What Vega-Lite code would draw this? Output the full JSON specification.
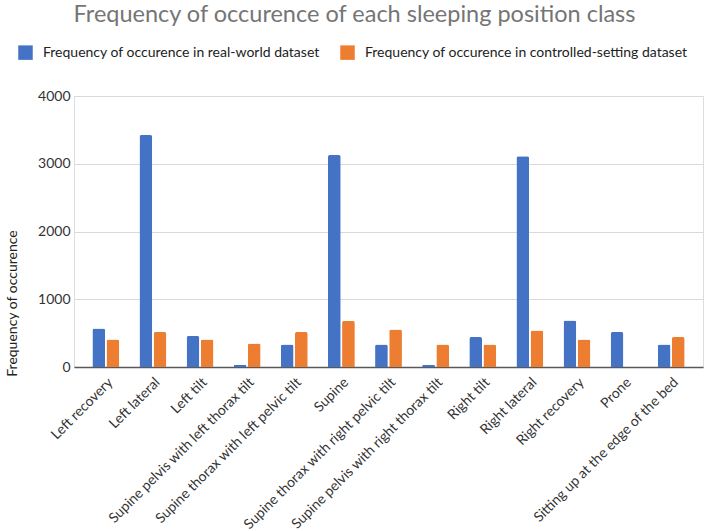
{
  "$schema": "https://vega.github.io/schema/vega-lite/v6.json",
  "width": 629,
  "height": 271,
  "autosize": {"type": "none"},
  "padding": {"left": 74, "top": 96, "right": 4, "bottom": 164},
  "background": "white",
  "title": {
    "text": "Frequency of occurence of each sleeping position class",
    "anchor": "middle",
    "frame": "group",
    "dx": -34,
    "offset": 19,
    "font": "Lato",
    "fontSize": 23.5,
    "fontWeight": "normal",
    "color": "#757575"
  },
  "data": {
    "values": [
      {"position": "Left recovery", "dataset": "Frequency of occurence in real-world dataset", "count": 567},
      {"position": "Left recovery", "dataset": "Frequency of occurence in controlled-setting dataset", "count": 405},
      {"position": "Left lateral", "dataset": "Frequency of occurence in real-world dataset", "count": 3424},
      {"position": "Left lateral", "dataset": "Frequency of occurence in controlled-setting dataset", "count": 517},
      {"position": "Left tilt", "dataset": "Frequency of occurence in real-world dataset", "count": 458},
      {"position": "Left tilt", "dataset": "Frequency of occurence in controlled-setting dataset", "count": 405},
      {"position": "Supine pelvis with left thorax tilt", "dataset": "Frequency of occurence in real-world dataset", "count": 35},
      {"position": "Supine pelvis with left thorax tilt", "dataset": "Frequency of occurence in controlled-setting dataset", "count": 346},
      {"position": "Supine thorax with left pelvic tilt", "dataset": "Frequency of occurence in real-world dataset", "count": 331},
      {"position": "Supine thorax with left pelvic tilt", "dataset": "Frequency of occurence in controlled-setting dataset", "count": 517},
      {"position": "Supine", "dataset": "Frequency of occurence in real-world dataset", "count": 3128},
      {"position": "Supine", "dataset": "Frequency of occurence in controlled-setting dataset", "count": 680},
      {"position": "Supine thorax with right pelvic tilt", "dataset": "Frequency of occurence in real-world dataset", "count": 331},
      {"position": "Supine thorax with right pelvic tilt", "dataset": "Frequency of occurence in controlled-setting dataset", "count": 553},
      {"position": "Supine pelvis with right thorax tilt", "dataset": "Frequency of occurence in real-world dataset", "count": 35},
      {"position": "Supine pelvis with right thorax tilt", "dataset": "Frequency of occurence in controlled-setting dataset", "count": 331},
      {"position": "Right tilt", "dataset": "Frequency of occurence in real-world dataset", "count": 443},
      {"position": "Right tilt", "dataset": "Frequency of occurence in controlled-setting dataset", "count": 331},
      {"position": "Right lateral", "dataset": "Frequency of occurence in real-world dataset", "count": 3109},
      {"position": "Right lateral", "dataset": "Frequency of occurence in controlled-setting dataset", "count": 538},
      {"position": "Right recovery", "dataset": "Frequency of occurence in real-world dataset", "count": 686},
      {"position": "Right recovery", "dataset": "Frequency of occurence in controlled-setting dataset", "count": 405},
      {"position": "Prone", "dataset": "Frequency of occurence in real-world dataset", "count": 517},
      {"position": "Prone", "dataset": "Frequency of occurence in controlled-setting dataset", "count": 0},
      {"position": "Sitting up at the edge of the bed", "dataset": "Frequency of occurence in real-world dataset", "count": 331},
      {"position": "Sitting up at the edge of the bed", "dataset": "Frequency of occurence in controlled-setting dataset", "count": 443}
    ]
  },
  "mark": {"type": "bar", "cornerRadiusTopLeft": 2, "cornerRadiusTopRight": 2},
  "encoding": {
    "x": {
      "field": "position",
      "type": "nominal",
      "sort": null,
      "scale": {"paddingInner": 0.43, "paddingOuter": 0.39},
      "axis": {
        "title": null,
        "labelAngle": -45,
        "labelFont": "Lato",
        "labelFontSize": 14,
        "labelColor": "#333333",
        "labelLimit": 0,
        "ticks": false,
        "labelPadding": 8,
        "domainColor": "#595959",
        "domainWidth": 1.5
      }
    },
    "xOffset": {
      "field": "dataset",
      "type": "nominal",
      "sort": ["Frequency of occurence in real-world dataset", "Frequency of occurence in controlled-setting dataset"],
      "scale": {"paddingInner": 0.1}
    },
    "y": {
      "field": "count",
      "type": "quantitative",
      "scale": {"domain": [0, 4000]},
      "axis": {
        "title": "Frequency of occurence",
        "titleFont": "Lato",
        "titleFontSize": 14,
        "titleFontWeight": "normal",
        "titleColor": "#222222",
        "titleX": -62,
        "titleY": 207,
        "titleAlign": "center",
        "titleBaseline": "middle",
        "titleAngle": -90,
        "values": [0, 1000, 2000, 3000, 4000],
        "format": "d",
        "labelFont": "Lato",
        "labelFontSize": 14,
        "labelColor": "#333333",
        "labelPadding": 4,
        "domain": false,
        "ticks": false,
        "gridColor": "#d9d9d9",
        "gridWidth": 1.2
      }
    },
    "color": {
      "field": "dataset",
      "type": "nominal",
      "sort": ["Frequency of occurence in real-world dataset", "Frequency of occurence in controlled-setting dataset"],
      "scale": {"range": ["#4472C4", "#ED7D31"]},
      "legend": {
        "title": null,
        "orient": "none",
        "direction": "horizontal",
        "legendX": -56,
        "legendY": -51,
        "symbolType": "square",
        "symbolSize": 210,
        "symbolStrokeWidth": 0,
        "labelFont": "Lato",
        "labelFontSize": 14,
        "labelColor": "#222222",
        "labelLimit": 0,
        "labelOffset": 10,
        "columnPadding": 20
      }
    }
  }
}
